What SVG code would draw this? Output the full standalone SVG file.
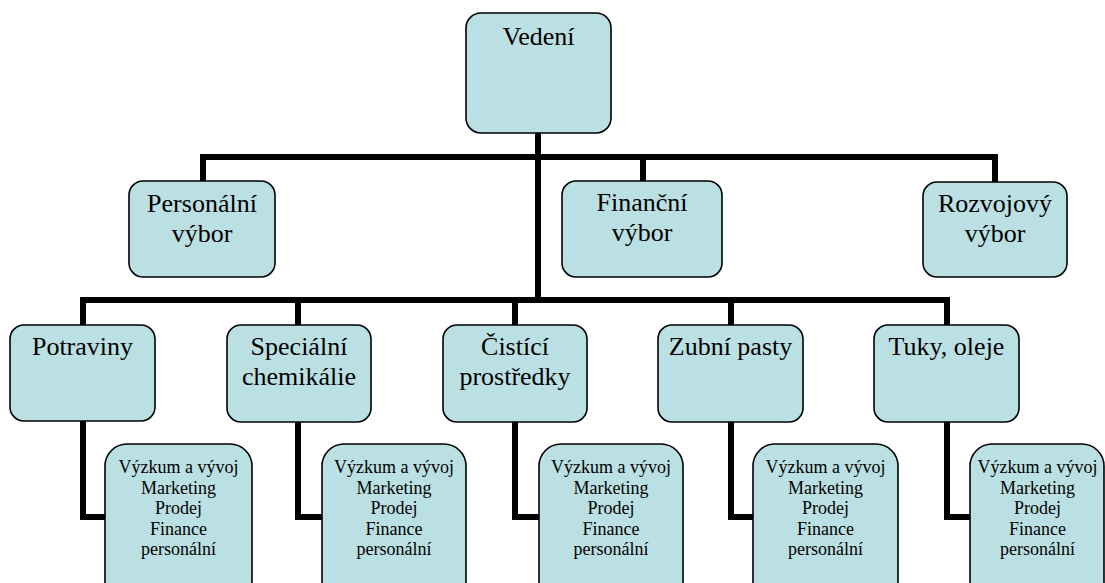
<svg xmlns="http://www.w3.org/2000/svg" width="1105" height="583" viewBox="0 0 1105 583">
  <style>
    .box { fill: #bbe0e3; stroke: #000; stroke-width: 1.6; }
    .wire { fill: none; stroke: #000; stroke-width: 6; stroke-linejoin: miter; stroke-linecap: butt; }
    text { font-family: 'Liberation Serif', 'Times New Roman', Tinos, 'DejaVu Serif', serif; fill: #000; text-anchor: middle; }
    .big { font-size: 26px; }
    .small { font-size: 18px; }
  </style>
  <rect width="1105" height="583" fill="#fff"/>

  <!-- connectors -->
  <g id="connectors">
    <polyline class="wire" points="538,133 538,300"/>
    <polyline class="wire" points="203,181 203,157 995,157 995,182"/>
    <polyline class="wire" points="643,157 643,181"/>
    <polyline class="wire" points="83,325 83,300 947,300 947,325"/>
    <polyline class="wire" points="298,300 298,325"/>
    <polyline class="wire" points="515,300 515,325"/>
    <polyline class="wire" points="731,300 731,325"/>
    <polyline class="wire" points="83,421 83,517 105,517"/>
    <polyline class="wire" points="298,421 298,517 322,517"/>
    <polyline class="wire" points="515,421 515,517 539,517"/>
    <polyline class="wire" points="731,421 731,517 753,517"/>
    <polyline class="wire" points="947,421 947,517 970,517"/>
  </g>

  <!-- top -->
  <g id="vedeni">
    <rect class="box" x="466" y="13" width="145" height="120" rx="15"/>
    <text class="big" x="538.5" y="45" font-family="Liberation Serif, serif">Vedení</text>
  </g>

  <!-- committees -->
  <g id="personalni-vybor">
    <rect class="box" x="129" y="181" width="146" height="96" rx="14"/>
    <text class="big" x="202" y="212">Personální</text>
    <text class="big" x="202" y="242">výbor</text>
  </g>
  <g id="financni-vybor">
    <rect class="box" x="562" y="181" width="160" height="96" rx="14"/>
    <text class="big" x="642" y="211">Finanční</text>
    <text class="big" x="642" y="241">výbor</text>
  </g>
  <g id="rozvojovy-vybor">
    <rect class="box" x="923" y="182" width="144" height="95" rx="14"/>
    <text class="big" x="995" y="212">Rozvojový</text>
    <text class="big" x="995" y="242">výbor</text>
  </g>

  <!-- divisions -->
  <g id="potraviny">
    <rect class="box" x="10" y="325" width="145" height="96" rx="14"/>
    <text class="big" x="82.5" y="355">Potraviny</text>
  </g>
  <g id="specialni-chemikalie">
    <rect class="box" x="227" y="325" width="144" height="97" rx="14"/>
    <text class="big" x="299" y="355">Speciální</text>
    <text class="big" x="299" y="385">chemikálie</text>
  </g>
  <g id="cistici-prostredky">
    <rect class="box" x="443" y="325" width="144" height="97" rx="14"/>
    <text class="big" x="515" y="355">Čistící</text>
    <text class="big" x="515" y="385">prostředky</text>
  </g>
  <g id="zubni-pasty">
    <rect class="box" x="658" y="325" width="145" height="97" rx="14"/>
    <text class="big" x="730.5" y="355">Zubní pasty</text>
  </g>
  <g id="tuky-oleje">
    <rect class="box" x="874" y="325" width="145" height="97" rx="14"/>
    <text class="big" x="946.5" y="355">Tuky, oleje</text>
  </g>

  <!-- departments -->
  <g id="oddeleni-1">
    <rect class="box" x="105" y="444" width="147" height="160" rx="22"/>
    <text class="small" x="178.5" y="473">Výzkum a vývoj</text>
    <text class="small" x="178.5" y="493.5">Marketing</text>
    <text class="small" x="178.5" y="514">Prodej</text>
    <text class="small" x="178.5" y="534.5">Finance</text>
    <text class="small" x="178.5" y="555">personální</text>
  </g>
  <g id="oddeleni-2">
    <rect class="box" x="322" y="444" width="144" height="160" rx="22"/>
    <text class="small" x="394" y="473">Výzkum a vývoj</text>
    <text class="small" x="394" y="493.5">Marketing</text>
    <text class="small" x="394" y="514">Prodej</text>
    <text class="small" x="394" y="534.5">Finance</text>
    <text class="small" x="394" y="555">personální</text>
  </g>
  <g id="oddeleni-3">
    <rect class="box" x="539" y="444" width="144" height="160" rx="22"/>
    <text class="small" x="611" y="473">Výzkum a vývoj</text>
    <text class="small" x="611" y="493.5">Marketing</text>
    <text class="small" x="611" y="514">Prodej</text>
    <text class="small" x="611" y="534.5">Finance</text>
    <text class="small" x="611" y="555">personální</text>
  </g>
  <g id="oddeleni-4">
    <rect class="box" x="753" y="444" width="145" height="160" rx="22"/>
    <text class="small" x="825.5" y="473">Výzkum a vývoj</text>
    <text class="small" x="825.5" y="493.5">Marketing</text>
    <text class="small" x="825.5" y="514">Prodej</text>
    <text class="small" x="825.5" y="534.5">Finance</text>
    <text class="small" x="825.5" y="555">personální</text>
  </g>
  <g id="oddeleni-5">
    <rect class="box" x="970" y="444" width="134" height="160" rx="22"/>
    <text class="small" x="1037.5" y="473">Výzkum a vývoj</text>
    <text class="small" x="1037.5" y="493.5">Marketing</text>
    <text class="small" x="1037.5" y="514">Prodej</text>
    <text class="small" x="1037.5" y="534.5">Finance</text>
    <text class="small" x="1037.5" y="555">personální</text>
  </g>
</svg>
